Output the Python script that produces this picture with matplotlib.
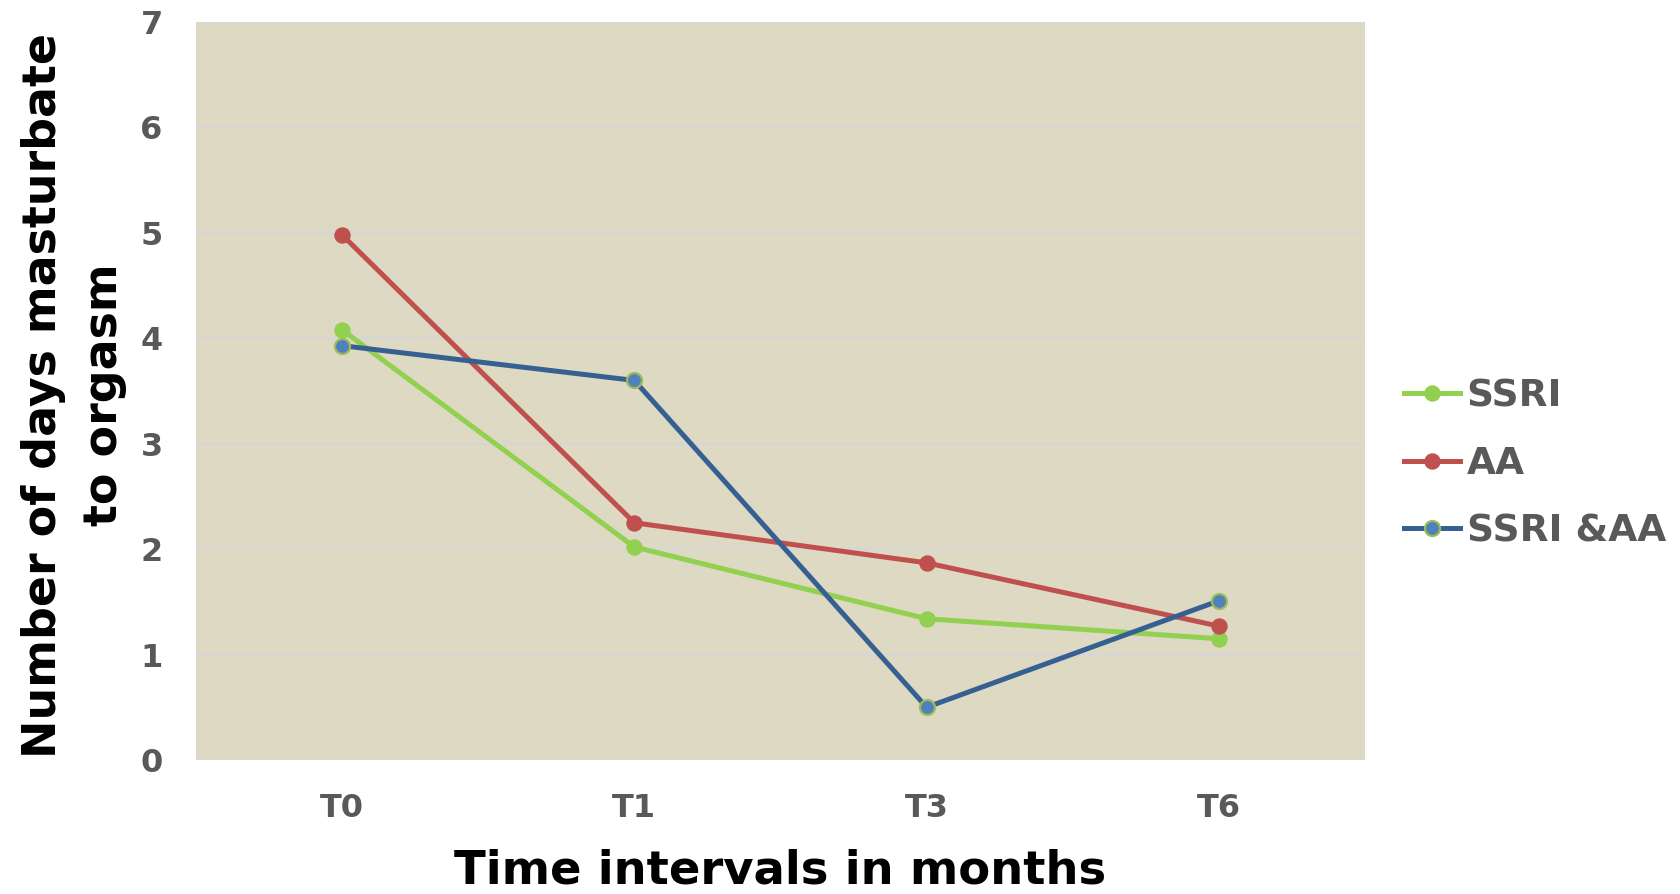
import matplotlib
matplotlib.use("Agg")
import matplotlib.pyplot as plt
from matplotlib.lines import Line2D

# Survey time points and group means
time_points = ["T0", "T1", "T3", "T6"]
ssri = [4.08, 2.02, 1.34, 1.15]
aa = [4.98, 2.25, 1.87, 1.27]
ssri_aa = [3.93, 3.60, 0.50, 1.51]
series_names = ["SSRI", "AA", "SSRI &AA"]
y_ticks = [0, 1, 2, 3, 4, 5, 6, 7]

plt.rcParams["font.family"] = ["DejaVu Sans"]

fig = plt.figure(figsize=(16.8, 8.94), dpi=100)
fig.patch.set_facecolor("white")
ax = fig.add_axes([196 / 1680, 1 - 760 / 894, (1365 - 196) / 1680, (760 - 22) / 894])
ax.set_facecolor("#DDD9C3")

x = list(range(len(time_points)))
lw = 3.6
ms = 10.8
ax.plot(x, ssri, color="#92D050", lw=lw, marker="o", ms=ms,
        markerfacecolor="#92D050", markeredgecolor="#92D050", zorder=3)
ax.plot(x, aa, color="#C0504D", lw=lw, marker="o", ms=ms,
        markerfacecolor="#C0504D", markeredgecolor="#C0504D", zorder=3)
ax.plot(x, ssri_aa, color="#366092", lw=lw, marker="o", ms=ms,
        markerfacecolor="#4F81BD", markeredgecolor="#9BBB59", markeredgewidth=1.6,
        zorder=4)

ax.set_xlim(-0.5, len(time_points) - 0.5)
ax.set_ylim(0, 7)
ax.set_yticks(y_ticks)
ax.set_xticks(x)
ax.set_xticklabels(time_points)
ax.yaxis.grid(True, color="#D6D6D6", lw=1.6, zorder=0)
ax.set_axisbelow(True)
for s in ax.spines.values():
    s.set_visible(False)
ax.tick_params(axis="both", length=0, labelsize=23, labelcolor="#595959")
ax.tick_params(axis="x", pad=24)
ax.tick_params(axis="y", pad=24)
for lab in ax.get_xticklabels() + ax.get_yticklabels():
    lab.set_fontweight("bold")

fig.text(780.5 / 1680, 1 - 893 / 894, "Time intervals in months", ha="center",
         va="bottom", fontsize=33.5, fontweight="bold", color="black")
fig.text(74 / 1680, 1 - 395 / 894, "Number of days masturbate\nto orgasm",
         rotation=90, ha="center", va="center", multialignment="center",
         fontsize=33, fontweight="bold", color="black", linespacing=1.45)

handles = [
    Line2D([], [], color="#92D050", lw=lw, marker="o", ms=ms,
           markerfacecolor="#92D050", markeredgecolor="#92D050"),
    Line2D([], [], color="#C0504D", lw=lw, marker="o", ms=ms,
           markerfacecolor="#C0504D", markeredgecolor="#C0504D"),
    Line2D([], [], color="#366092", lw=lw, marker="o", ms=ms,
           markerfacecolor="#4F81BD", markeredgecolor="#9BBB59", markeredgewidth=1.6),
]
leg = fig.legend(handles, series_names, loc="center left",
                 bbox_to_anchor=(1404 / 1680, 1 - 464 / 894),
                 frameon=False, borderpad=0, borderaxespad=0,
                 handlelength=1.5, handletextpad=0.17, labelspacing=0.84,
                 prop={"size": 27, "weight": "bold"})
for t in leg.get_texts():
    t.set_color("#595959")

fig.savefig("out.png", dpi=100, facecolor="white")
